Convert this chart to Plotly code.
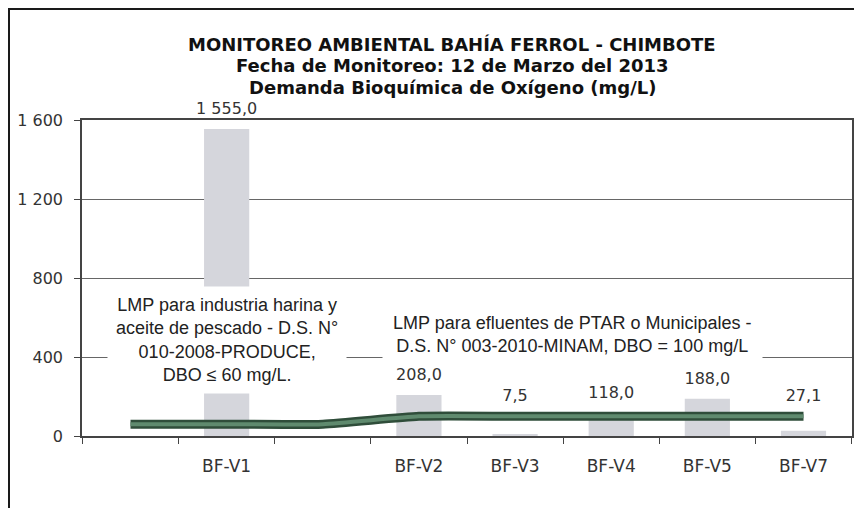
import plotly.graph_objects as go

# ---- data ----
categories = ["  ", "BF-V1", "   ", "BF-V2", "BF-V3", "BF-V4", "BF-V5", "BF-V7"]
dbo_values = [None, 1555.0, None, 208.0, 7.5, 118.0, 188.0, 27.1]
lmp_values = [60, 60, 60, 100, 100, 100, 100, 100]
y_ticks = [0, 400, 800, 1200, 1600]

title_lines = [
    "MONITOREO AMBIENTAL BAHÍA FERROL - CHIMBOTE",
    "Fecha de Monitoreo: 12 de Marzo del 2013",
    "Demanda Bioquímica de Oxígeno (mg/L)",
]
note_produce = "LMP para industria harina y<br>aceite de pescado - D.S. N°<br>010-2008-PRODUCE,<br>DBO ≤ 60 mg/L."
note_minam = "LMP para efluentes de PTAR o Municipales -<br>D.S. N° 003-2010-MINAM, DBO = 100 mg/L"

label_y = [max(v, l) if v is not None else None for v, l in zip(dbo_values, lmp_values)]
label_txt = [None if v is None else v for v in dbo_values]

PLOT_TOP, PLOT_BOTTOM, PLOT_LEFT, PLOT_RIGHT = 120, 436, 82, 852
PH = PLOT_BOTTOM - PLOT_TOP
PW = PLOT_RIGHT - PLOT_LEFT

fig = go.Figure()

fig.add_trace(go.Bar(
    x=categories, y=dbo_values, width=0.47,
    marker=dict(color="#d5d6dc", line=dict(width=0)),
    showlegend=False, hoverinfo="skip",
))

fig.add_trace(go.Scatter(
    x=categories, y=lmp_values, mode="lines",
    line=dict(color="#2f4d3a", width=9, shape="spline", smoothing=0.55),
    showlegend=False, hoverinfo="skip",
))
fig.add_trace(go.Scatter(
    x=categories, y=lmp_values, mode="lines",
    line=dict(color="#5f8a6e", width=4, shape="spline", smoothing=0.55),
    showlegend=False, hoverinfo="skip",
))

fig.add_trace(go.Scatter(
    x=categories, y=label_y, customdata=label_txt, mode="markers+text",
    texttemplate="%{customdata:,.1f}", textposition="top center",
    marker=dict(size=16, opacity=0),
    textfont=dict(family="DejaVu Sans", size=16, color="#333333"),
    cliponaxis=False, showlegend=False, hoverinfo="skip",
))

fig.add_annotation(
    x=1, y=486, xref="x", yref="y", text=note_produce, showarrow=False,
    font=dict(family="Liberation Sans, Arial", size=18, color="#222222"),
    bgcolor="white", borderpad=8, align="center",
)
fig.add_annotation(
    x=4.6, y=516, xref="x", yref="y", text=note_minam, showarrow=False,
    font=dict(family="Liberation Sans, Arial", size=18, color="#222222"),
    bgcolor="white", borderpad=10, align="center",
)

# title lines
for line, ypx in zip(title_lines, [44, 65.5, 87]):
    fig.add_annotation(
        x=(452 - PLOT_LEFT) / PW, y=(PLOT_BOTTOM - ypx) / PH, xref="paper", yref="paper",
        text="<b>" + line + "</b>", showarrow=False, xanchor="center", yanchor="middle",
        font=dict(family="DejaVu Sans", size=18, color="#111111"),
    )

# outer frame
fig.add_shape(type="rect", xref="paper", yref="paper",
              x0=(9 - PLOT_LEFT) / PW, x1=1.05, y0=-0.3, y1=(PLOT_BOTTOM - 9) / PH,
              line=dict(color="#1a1a1a", width=2), layer="above")

fig.update_layout(
    width=854, height=508,
    margin=dict(l=PLOT_LEFT, r=854 - PLOT_RIGHT, t=PLOT_TOP, b=508 - PLOT_BOTTOM),
    paper_bgcolor="white", plot_bgcolor="white",
    separators=", ",
)

fig.update_xaxes(
    type="category", categoryorder="array", categoryarray=categories,
    tickson="boundaries", ticks="outside", ticklen=6, tickcolor="#444",
    showline=True, linecolor="#444", linewidth=1.5, mirror=True,
    tickfont=dict(family="DejaVu Sans", size=17, color="#333"),
    ticklabelstandoff=14, showgrid=False, automargin=False,
)
fig.update_yaxes(
    range=[0, 1600], tickvals=y_ticks, tickformat=",d",
    ticks="outside", ticklen=6, tickcolor="#444",
    showline=True, linecolor="#444", linewidth=1.5, mirror=True,
    showgrid=True, gridcolor="#666", gridwidth=1, zeroline=False,
    tickfont=dict(family="DejaVu Sans", size=16, color="#333"),
    ticklabelstandoff=8, automargin=False,
)

fig.write_html("out.html", config={"displayModeBar": False},
               post_script="document.body.style.margin='0';")
